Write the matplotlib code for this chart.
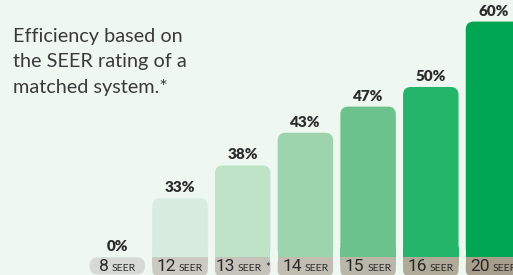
import matplotlib.pyplot as plt
from matplotlib.patches import FancyBboxPatch, Rectangle
from matplotlib.offsetbox import TextArea, HPacker, AnnotationBbox

# SEER ratings and efficiency gain (%)
ratings = ['8', '12', '13', '14', '15', '16', '20']
efficiency = [0, 33, 38, 43, 47, 50, 60]
bar_colors = ['none', '#d8eddf', '#bee3c7', '#9ed4ad', '#6cc28c', '#24b46a', '#00a651']
band_colors = ['#d7dad4', '#cbcac2', '#c6c4ba', '#c1beb1', '#bab6a8', '#b0aa98', '#a79f8b']
title_lines = ['Efficiency based on', 'the SEER rating of a', 'matched system.*']

bg = '#eff7f1'
W, H = 513, 275
fig = plt.figure(figsize=(W / 100, H / 100), dpi=100)
fig.patch.set_facecolor(bg)
ax = fig.add_axes([0, 0, 1, 1])
ax.set_facecolor(bg)
ax.axis('off')

# scale: 62.7 px per bar slot, 6.54 px per percent
px_x, px_y = 62.7, 6.54
base = 24.0  # value sitting on top of the label band
ax.set_xlim(-117.3 / px_x, (W - 117.3) / px_x)
ax.set_ylim(base - 18 / px_y, base + 257 / px_y)
aspect = px_x / px_y

x = list(range(len(ratings)))
bars = ax.bar(x, efficiency, width=0.885, color=bar_colors)
for b, c in zip(bars, bar_colors):
    b.remove()
    top = b.get_y() + b.get_height()
    if top <= base:
        continue
    r = 8 / px_x
    ax.add_patch(FancyBboxPatch((b.get_x(), base), b.get_width(), top - base,
                                boxstyle=f'round,pad=0,rounding_size={r}',
                                mutation_aspect=aspect, fc=c, ec='none', zorder=2))
    ax.add_patch(Rectangle((b.get_x(), base), b.get_width(), 10 / px_y,
                           fc=c, ec='none', zorder=2))

num_font = ['Liberation Sans Narrow', 'Roboto']
txt = '#2a2a2a'

# label bands under the bars
for i, c in enumerate(band_colors):
    w = 0.885
    if efficiency[i] == 0:
        y0, y1 = base - 17.5 / px_y, base - 0.3 / px_y
        ax.add_patch(FancyBboxPatch((i - w / 2, y0), w, y1 - y0,
                                    boxstyle=f'round,pad=0,rounding_size={8.5 / px_x}',
                                    mutation_aspect=aspect, fc=c, ec='none', zorder=3))
    else:
        y0 = base - 19 / px_y
        ax.add_patch(FancyBboxPatch((i - w / 2, y0), w, base - y0,
                                    boxstyle=f'round,pad=0,rounding_size={6 / px_x}',
                                    mutation_aspect=aspect, fc=c, ec='none', zorder=3))
        ax.add_patch(Rectangle((i - w / 2, base - 8 / px_y), w, 8 / px_y,
                               fc=c, ec='none', zorder=3))

    parts = [TextArea(ratings[i], textprops=dict(fontsize=12.5, color=txt, family=num_font)),
             TextArea('SEER', textprops=dict(fontsize=7.5, color=txt, family='Lato'))]
    if ratings[i] == '13':
        parts.append(TextArea('*', textprops=dict(fontsize=8, color=txt, family='Lato')))
    box = HPacker(children=parts, align='baseline', pad=0, sep=2)
    ax.add_artist(AnnotationBbox(box, (i, base - 17.3 / px_y), frameon=False,
                                 box_alignment=(0.5, 0.0), annotation_clip=False,
                                 zorder=4))

    ax.annotate(f'{efficiency[i]}%', (i, max(efficiency[i], base)),
                xytext=(0, 4), textcoords='offset pixels', ha='center', va='bottom',
                fontsize=11, fontweight='heavy', family='Lato', color='#2b2b2b', zorder=4)

for k, line in enumerate(title_lines):
    fig.text(13 / W, 1 - (41.7 + 25.8 * k) / H, line, ha='left', va='baseline',
             fontsize=14.3, family='Lato', color='#3a3a3a')

fig.savefig('out.png', dpi=100, facecolor=bg)
